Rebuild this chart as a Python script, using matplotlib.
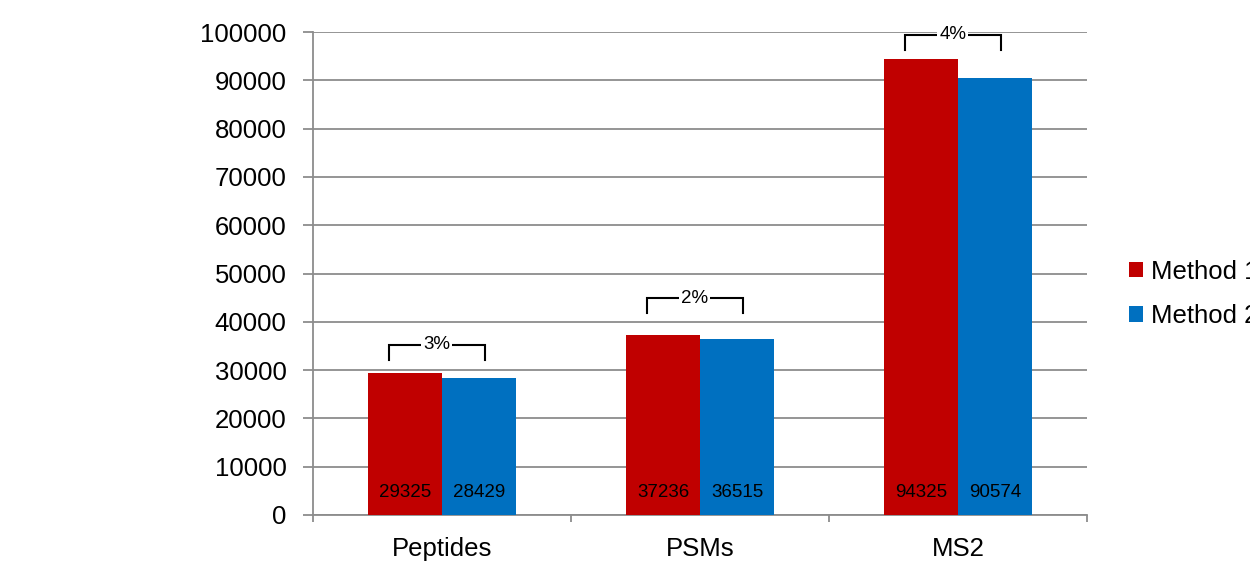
import numpy as np
import matplotlib
matplotlib.use("Agg")
import matplotlib.pyplot as plt
from matplotlib.patches import Patch

plt.rcParams['font.family'] = ['Liberation Sans', 'DejaVu Sans']

categories = ["Peptides", "PSMs", "MS2"]
method1 = [29325, 37236, 94325]
method2 = [28429, 36515, 90574]
series_names = ["Method 1", "Method 2"]
y_ticks = [0, 10000, 20000, 30000, 40000, 50000, 60000, 70000, 80000, 90000, 100000]

# vertical placement of the difference brackets (data units)
bracket_tops = [35200, 44900, 99400]
bracket_leg = 3100

RED = "#C00000"
BLUE = "#0070C0"
GRID = "#8C8C8C"

fig = plt.figure(figsize=(12.5, 5.65), dpi=100)
ax = fig.add_axes([313 / 1250, 1 - 515 / 565, 774 / 1250, 483 / 565])

x = np.arange(len(categories))
w = 0.287
ax.bar(x - w / 2, method1, width=w, color=RED, zorder=3)
ax.bar(x + w / 2, method2, width=w, color=BLUE, zorder=3)

for i in range(len(categories)):
    for xc, v in ((x[i] - w / 2, method1[i]), (x[i] + w / 2, method2[i])):
        ax.text(xc, 4760, f"{v}", ha="center", va="center", fontsize=13.5,
                color="black", zorder=5)
    # bracket with the relative difference
    pct = round(100 * (method1[i] - method2[i]) / method1[i])
    cx = x[i] - 0.02
    hw = 0.186
    top = bracket_tops[i]
    ax.plot([cx - hw, cx - hw, cx + hw, cx + hw],
            [top - bracket_leg, top, top, top - bracket_leg],
            color="black", lw=1.5, zorder=4, solid_joinstyle="miter")
    ax.text(cx, top, f"{pct}%", ha="center", va="center", fontsize=13.5,
            zorder=6, bbox=dict(facecolor="white", edgecolor="none", pad=1.5))

ax.set_xlim(-0.5, 2.5)
ax.set_ylim(0, 100000)
ax.set_yticks(y_ticks)
ax.set_yticklabels([str(t) for t in y_ticks], fontsize=18.5)
ax.yaxis.grid(True, color=GRID, lw=1.3, zorder=0)
ax.set_axisbelow(True)

# category labels centred, ticks at category boundaries
ax.set_xticks([-0.5, 0.5, 1.5, 2.5])
ax.set_xticklabels([])
ax.set_xticks(x, minor=True)
ax.set_xticklabels(categories, minor=True, fontsize=18.5)
ax.tick_params(axis="x", which="minor", length=0, pad=16)
ax.tick_params(axis="x", which="major", length=5, width=1.3, color=GRID)
ax.tick_params(axis="y", length=7, width=1.3, color=GRID, pad=12)

for s in ("top", "right"):
    ax.spines[s].set_visible(False)
for s in ("left", "bottom"):
    ax.spines[s].set_color(GRID)
    ax.spines[s].set_linewidth(1.3)

handles = [Patch(facecolor=RED, edgecolor="none"), Patch(facecolor=BLUE, edgecolor="none")]
fig.legend(handles, series_names, loc="center left",
           bbox_to_anchor=(1129 / 1250, 1 - 294 / 565), frameon=False,
           fontsize=18.5, handlelength=0.55, handleheight=0.55,
           handletextpad=0.3, labelspacing=0.8, borderpad=0, borderaxespad=0)

fig.savefig("out.png", dpi=100)
